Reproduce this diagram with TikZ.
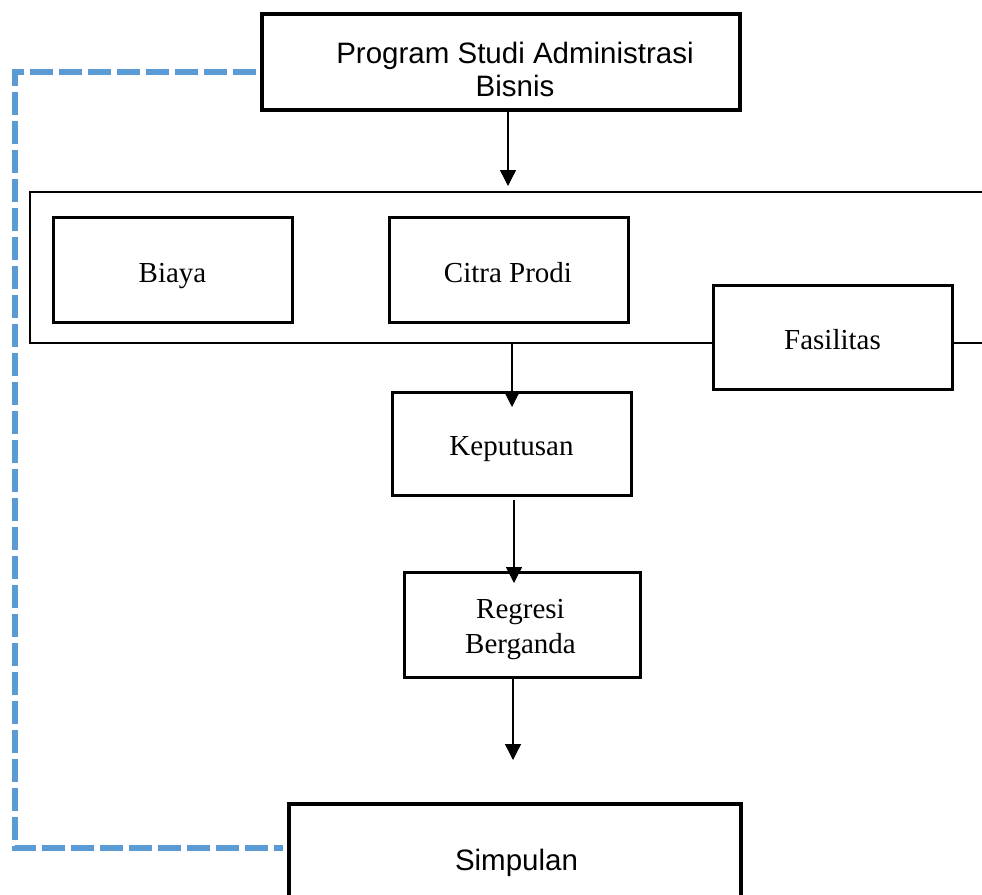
\documentclass[tikz,border=0pt]{standalone}
\usepackage{fontspec}
\setmainfont{Liberation Serif}
\newfontfamily\arialfont{Liberation Sans}
\usetikzlibrary{arrows.meta}
\definecolor{dashblue}{HTML}{5B9BD5}
\begin{document}
\begin{tikzpicture}[x=1pt,y=-1pt,
  box/.style={draw, line width=3pt, fill=white, inner sep=0pt},
  thickbox/.style={box, line width=3.6pt},
  seriftxt/.style={font=\fontsize{29}{35}\selectfont, align=center, inner sep=0pt, anchor=base},
  arialtxt/.style={font=\arialfont\fontsize{29.5}{33}\selectfont, align=center, inner sep=0pt, anchor=base},
  arr/.style={line width=1.3pt, -{Triangle[width=16pt,length=16pt]}},
  fb/.style={draw=dashblue, line width=5.5pt, dash pattern=on 23pt off 6pt}]
\useasboundingbox (0,0) rectangle (982,894);
\clip (0,0) rectangle (982,894);

% group frame
\node[draw, line width=2.3pt, inner sep=0pt, minimum width=970pt, minimum height=151pt] (grp) at (515,267.5) {};

% boxes
\node[thickbox, minimum width=478pt, minimum height=96pt] (prog) at (501,62) {};
\node[box, minimum width=239pt, minimum height=105pt] (biaya) at (172.5,269.5) {};
\node[box, minimum width=239pt, minimum height=105pt] (citra) at (508.5,269.5) {};
\node[box, minimum width=239pt, minimum height=104pt] (fas) at (832.5,337) {};
\node[box, minimum width=239pt, minimum height=103pt] (kep) at (511.5,443.5) {};
\node[box, minimum width=236pt, minimum height=105pt] (reg) at (522,624.5) {};
\node[thickbox, minimum width=452pt, minimum height=116pt] (simp) at (515,862) {};

% texts (last-line baselines)
\node[arialtxt] (progtxt) at (515,96) {Program Studi Administrasi\\Bisnis};
\node[seriftxt] (biayatxt) at (172.5,282) {Biaya};
\node[seriftxt] (citratxt) at (508,282) {Citra Prodi};
\node[seriftxt] (fastxt) at (832.5,349) {Fasilitas};
\node[seriftxt] (keptxt) at (511.5,455) {Keputusan};
\node[seriftxt] (regtxt) at (520.5,653) {Regresi\\Berganda};
\node[arialtxt] (simptxt) at (516.5,870) {Simpulan};

% arrows
\coordinate (a1e) at (508,186);
\draw[arr] (prog.south -| a1e) -- (a1e);
\coordinate (a2e) at (512,407);
\draw[arr] (grp.south -| a2e) -- (a2e);
\coordinate (a3e) at (514,583);
\draw[arr] ([yshift=-3pt]kep.south -| a3e) -- (a3e);
\coordinate (a4e) at (513,760);
\draw[arr] (reg.south -| a4e) -- (a4e);

% dashed feedback line
\coordinate (fbtop) at (15,72);
\coordinate (fbbot) at (15,848);
\draw[fb] ([xshift=-4pt]prog.west |- fbtop) -- (fbtop) -- (fbbot) -- ([xshift=-4pt]simp.west |- fbbot);
\end{tikzpicture}
\end{document}
